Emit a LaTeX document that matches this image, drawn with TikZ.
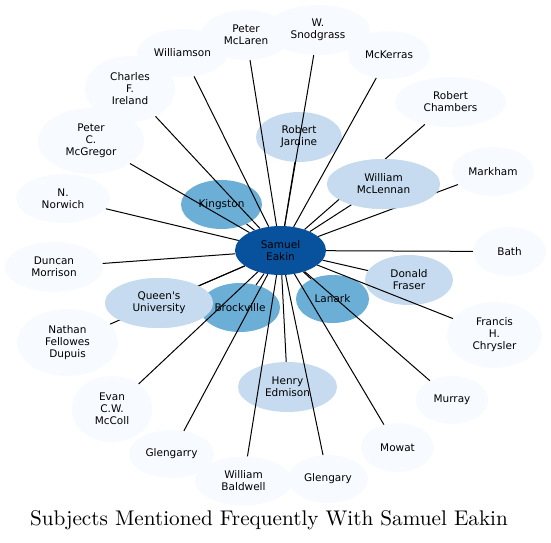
\documentclass[tikz,border=0pt]{standalone}
\usepackage{fontspec}
\usetikzlibrary{shapes.geometric}
\newfontfamily\dejavu{DejaVu Sans}
\newfontfamily\ttlfont{lmroman10-regular.otf}
\definecolor{cP}{HTML}{F7FBFF}
\definecolor{cL}{HTML}{C6DBEF}
\definecolor{cM}{HTML}{6BAED6}
\definecolor{cD}{HTML}{08519C}
\tikzset{
  ell/.style n args={3}{ellipse, minimum width=#1pt, minimum height=#2pt, inner sep=0pt, draw=none, fill=#3},
  lbl/.style={inner sep=0pt, align=center, font=\dejavu\fontsize{10.5}{12}\selectfont, text=black},
  edge/.style={draw=black, line width=1pt},
  ttl/.style={inner sep=0pt, font=\ttlfont\fontsize{21.2}{24}\selectfont}
}
\begin{document}
\begin{tikzpicture}[x=1pt,y=-1pt]
\useasboundingbox (0,0) rectangle (551,542);
% peripheral nodes
\node[ell={91}{48}{cP}] (williamson) at (182.5,53) {};
\node[ell={90}{50}{cP}] (mclaren) at (246,35) {};
\node[ell={104}{50}{cP}] (snodgrass) at (318,30) {};
\node[ell={82}{48}{cP}] (mckerras) at (389,55) {};
\node[ell={111}{50}{cP}] (chambers) at (450.5,102) {};
\node[ell={82}{49}{cP}] (markham) at (493,171.5) {};
\node[ell={73}{49}{cP}] (bath) at (509.5,251.5) {};
\node[ell={95}{66}{cP}] (chrysler) at (494.5,335) {};
\node[ell={73}{48}{cP}] (murray) at (452,400) {};
\node[ell={73}{49}{cP}] (mowat) at (397.5,447.5) {};
\node[ell={80}{48}{cP}] (glengary) at (328,479) {};
\node[ell={97}{49}{cP}] (baldwell) at (243.5,481) {};
\node[ell={85}{48}{cP}] (glengarry) at (171.5,454) {};
\node[ell={81}{66}{cP}] (mccoll) at (112,409) {};
\node[ell={101}{67}{cP}] (dupuis) at (67.5,342.5) {};
\node[ell={98}{50}{cP}] (morrison) at (54,267) {};
\node[ell={94}{49}{cP}] (norwich) at (63,198.5) {};
\node[ell={106}{66}{cP}] (mcgregor) at (91,141) {};
\node[ell={90}{66}{cP}] (ireland) at (130,89) {};
% inner nodes
\node[ell={81}{49}{cM}] (kingston) at (221.5,204.5) {};
\node[ell={80}{49}{cM}] (brockville) at (240,307.5) {};
\node[ell={73}{48}{cM}] (lanark) at (332.5,299) {};
\node[ell={88}{50}{cL}] (fraser) at (409,280) {};
\node[ell={86}{50}{cL}] (jardine) at (299,137) {};
\node[ell={99}{50}{cL}] (edmison) at (287.5,387) {};
\node[ell={113}{50}{cL}] (mclennan) at (383.5,184) {};
\node[ell={108}{50}{cL}] (queens) at (159,303) {};
\node[ell={91}{49}{cD}] (eakin) at (280.5,250.5) {};
% edges
\foreach \n in {williamson,mclaren,snodgrass,mckerras,chambers,markham,bath,chrysler,murray,mowat,glengary,baldwell,glengarry,mccoll,dupuis,morrison,norwich,mcgregor,ireland,kingston,brockville,lanark,fraser,jardine,edmison,mclennan,queens}
  \draw[edge] (eakin) -- (\n);
% nodes drawn above edges
\node[ell={113}{50}{cL}] (mclennanTop) at (mclennan) {};
\node[ell={108}{50}{cL}] (queensTop) at (queens) {};
% labels
\node[lbl] (williamsonT) at (williamson) {Williamson};
\node[lbl] (mclarenT) at (mclaren) {Peter\\McLaren};
\node[lbl] (snodgrassT) at (snodgrass) {W.\\Snodgrass};
\node[lbl] (mckerrasT) at (mckerras) {McKerras};
\node[lbl] (chambersT) at (chambers) {Robert\\Chambers};
\node[lbl] (markhamT) at (markham) {Markham};
\node[lbl] (bathT) at (bath) {Bath};
\node[lbl] (chryslerT) at (chrysler) {Francis\\H.\\Chrysler};
\node[lbl] (murrayT) at (murray) {Murray};
\node[lbl] (mowatT) at (mowat) {Mowat};
\node[lbl] (glengaryT) at (glengary) {Glengary};
\node[lbl] (baldwellT) at (baldwell) {William\\Baldwell};
\node[lbl] (glengarryT) at (glengarry) {Glengarry};
\node[lbl] (mccollT) at (mccoll) {Evan\\C.W.\\McColl};
\node[lbl] (dupuisT) at (dupuis) {Nathan\\Fellowes\\Dupuis};
\node[lbl] (morrisonT) at (morrison) {Duncan\\Morrison};
\node[lbl] (norwichT) at (norwich) {N.\\Norwich};
\node[lbl] (mcgregorT) at (mcgregor) {Peter\\C.\\McGregor};
\node[lbl] (irelandT) at (ireland) {Charles\\F.\\Ireland};
\node[lbl] (kingstonT) at (kingston) {Kingston};
\node[lbl] (brockvilleT) at (brockville) {Brockville};
\node[lbl] (lanarkT) at (lanark) {Lanark};
\node[lbl] (fraserT) at (fraser) {Donald\\Fraser};
\node[lbl] (jardineT) at (jardine) {Robert\\Jardine};
\node[lbl] (edmisonT) at (edmison) {Henry\\Edmison};
\node[lbl] (mclennanT) at (mclennan) {William\\McLennan};
\node[lbl] (queensT) at (queens) {Queen's\\University};
\node[lbl] (eakinT) at (eakin) {Samuel\\Eakin};
\node[ttl] (title) at (269,520) {Subjects Mentioned Frequently With Samuel Eakin};
\end{tikzpicture}
\end{document}
